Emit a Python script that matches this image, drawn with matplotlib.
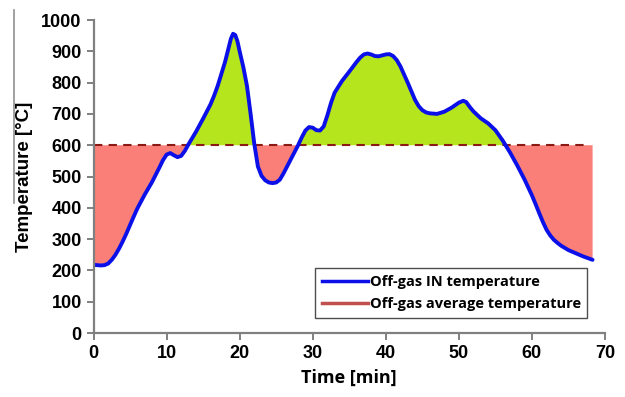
import numpy as np
import matplotlib
matplotlib.use("Agg")
import matplotlib.pyplot as plt
from matplotlib.lines import Line2D

# time [min] and off-gas IN temperature [°C]
time_min = [0, 1, 1.5, 2, 2.5, 3, 3.5, 4, 4.5, 5, 5.5, 6, 7, 8, 9, 9.5, 10,
            10.5, 11, 11.5, 12, 12.5, 13, 14, 15, 16, 16.5, 17, 17.5, 18,
            18.5, 18.8, 19.1, 19.4, 19.7, 20, 20.5, 21, 21.5, 22, 22.5, 23,
            23.5, 24, 24.5, 25, 25.5, 26, 27, 28, 28.5, 29, 29.5, 30, 30.5,
            31, 31.5, 32, 32.5, 33, 34, 35, 36, 36.5, 37, 37.5, 38, 38.5, 39,
            39.5, 40, 40.5, 41, 41.5, 42, 43, 44, 44.5, 45, 45.5, 46, 47, 48,
            49, 50, 50.6, 51, 51.5, 52, 53, 54, 55, 56, 57, 58, 59, 60, 60.5,
            61, 61.5, 62, 62.5, 63, 63.5, 64, 65, 66, 67, 68.3]
temp_in = [218, 216, 217, 222, 234, 250, 270, 293, 318, 345, 372, 398, 442,
           482, 528, 552, 570, 575, 568, 562, 566, 582, 603, 642, 685, 730,
           758, 790, 828, 866, 912, 940, 956, 952, 932, 900, 850, 790, 700,
           605, 532, 502, 488, 481, 479, 481, 490, 510, 555, 600, 625, 647,
           658, 656, 648, 647, 660, 695, 735, 768, 805, 835, 866, 880, 890,
           893, 890, 885, 884, 887, 890, 891, 885, 872, 852, 800, 745, 725,
           712, 705, 702, 700, 707, 720, 736, 742, 738, 722, 708, 686, 670,
           648, 615, 577, 535, 490, 440, 412, 383, 355, 330, 312, 298, 288,
           279, 265, 255, 245, 234]
avg_temp = 600
avg_end = 67.7

t = np.array(time_min)
y = np.array(temp_in)

fig = plt.figure(figsize=(6.25, 3.97), dpi=100)
ax = fig.add_axes([0.1496, 0.161, 0.8184, 0.7886])

ax.fill_between(t, y, avg_temp, where=y >= avg_temp, interpolate=True,
                color="#b5e51d", lw=0)
ax.fill_between(t, y, avg_temp, where=y <= avg_temp, interpolate=True,
                color="#fa7f78", lw=0)
ax.plot([0, avg_end], [avg_temp, avg_temp], ls=(0, (4, 3)), color="#8b1a14",
        lw=1.5)
ax.plot(t, y, color="#0c10e8", lw=2.8, solid_capstyle="round",
        solid_joinstyle="round")

ax.set_xlim(0, 70)
ax.set_ylim(0, 1000)
ax.set_xticks(range(0, 71, 10))
ax.set_yticks(range(0, 1001, 100))
for s in ["top", "right"]:
    ax.spines[s].set_visible(False)
for s in ["left", "bottom"]:
    ax.spines[s].set_color("#808080")
    ax.spines[s].set_linewidth(1.6)
ax.tick_params(direction="out", length=5, width=1.4, color="#808080",
               labelsize=13)
for lab in ax.get_xticklabels() + ax.get_yticklabels():
    lab.set_fontfamily("Liberation Sans")
    lab.set_fontweight("bold")

ax.set_ylabel("Temperature [°C]", family="Liberation Sans", weight="bold",
              fontsize=13.5, labelpad=6)
ax.set_xlabel("Time [min]", family="Open Sans", weight="bold", fontsize=13,
              labelpad=5)

handles = [Line2D([], [], color="#0c10e8", lw=2.5),
           Line2D([], [], color="#c0504d", lw=2.5)]
leg = ax.legend(handles, ["Off-gas IN temperature", "Off-gas average temperature"],
                loc="lower right", bbox_to_anchor=(0.98, 0.025),
                prop={"family": "Open Sans", "weight": "bold", "size": 10.5},
                frameon=True, fancybox=False, handlelength=3.2,
                handletextpad=0.1, borderpad=0.45, labelspacing=0.6)
leg.get_frame().set_edgecolor("#202020")
leg.get_frame().set_linewidth(1.0)

# stray vertical rule left of the y label
fig.add_artist(Line2D([14 / 625, 14 / 625], [1 - 10 / 397, 1 - 203 / 397],
                      color="#909090", lw=1.2))

fig.savefig("out.png", dpi=100)
